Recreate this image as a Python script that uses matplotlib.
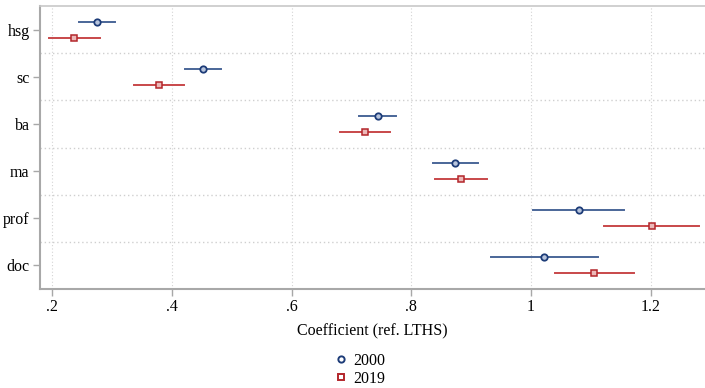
import matplotlib.pyplot as plt
from matplotlib.lines import Line2D

plt.rcParams['font.family'] = ['Liberation Serif', 'DejaVu Serif']

# Coefficients with 95% CI
categories = ['hsg', 'sc', 'ba', 'ma', 'prof', 'doc']
coef_2000 = [0.274, 0.452, 0.744, 0.873, 1.080, 1.022]
lo_2000 = [0.245, 0.422, 0.713, 0.836, 1.004, 0.933]
hi_2000 = [0.304, 0.482, 0.775, 0.911, 1.156, 1.112]
coef_2019 = [0.237, 0.379, 0.723, 0.883, 1.202, 1.106]
lo_2019 = [0.195, 0.337, 0.681, 0.839, 1.123, 1.041]
hi_2019 = [0.279, 0.420, 0.765, 0.927, 1.281, 1.172]
xticks = [0.2, 0.4, 0.6, 0.8, 1.0, 1.2]
xticklabels = ['.2', '.4', '.6', '.8', '1', '1.2']

blue_line, blue_mk = '#4a6698', '#1d3c78'
red_line, red_mk = '#c8484a', '#b3262b'

fig = plt.figure(figsize=(7.05, 3.88), dpi=100)
ax = fig.add_axes([40 / 705, 1 - 289 / 388, 1 - 40 / 705, (289 - 6) / 388])

off = 0.17
y = range(len(categories))
for i in y:
    ax.plot([lo_2000[i], hi_2000[i]], [i - off, i - off], color=blue_line, lw=1.4, zorder=2)
    ax.plot([lo_2019[i], hi_2019[i]], [i + off, i + off], color=red_line, lw=1.4, zorder=2)
ax.plot(coef_2000, [i - off for i in y], 'o', ms=4.6, mfc='#b7c4dc', mec=blue_mk, mew=1.3,
        ls='none', zorder=3)
ax.plot(coef_2019, [i + off for i in y], 's', ms=4.6, mfc='#ecb8b8', mec=red_mk, mew=1.1,
        ls='none', zorder=3)

ax.set_xlim(0.1794, 1.291)
ax.set_ylim(5.5, -0.5)
ax.set_yticks(list(y))
ax.set_yticklabels(categories, fontsize=11.5)
ax.set_xticks(xticks)
ax.set_xticklabels(xticklabels, fontsize=11.5)
ax.tick_params(axis='both', length=5, width=1, color='#a8a8a8', pad=2.5)

# dotted grids: vertical at ticks, horizontal between categories
for xv in xticks:
    ax.axvline(xv, color='#d4d4d4', lw=0.8, ls=(0, (1, 2)), zorder=0)
for yv in [0.5, 1.5, 2.5, 3.5, 4.5]:
    ax.axhline(yv, color='#cfcfcf', lw=1.0, ls=(0, (1, 2)), zorder=0)

for s in ['left', 'bottom']:
    ax.spines[s].set_color('#a8a8a8')
    ax.spines[s].set_linewidth(1.5)
ax.spines['top'].set_color('#c8c8c8')
ax.spines['top'].set_linewidth(1.2)
ax.spines['right'].set_visible(False)

ax.set_xlabel('Coefficient (ref. LTHS)', fontsize=11.5, labelpad=6)

handles = [
    Line2D([], [], marker='o', ls='none', ms=4.5, mfc='none', mec=blue_mk, mew=1.4),
    Line2D([], [], marker='s', ls='none', ms=4.5, mfc='none', mec=red_mk, mew=1.4),
]
fig.legend(handles, ['2000', '2019'], loc='upper center', bbox_to_anchor=(360 / 705, 1 - 345 / 388),
           ncol=1, frameon=False, fontsize=11.5, handlelength=0.8, handletextpad=0.4,
           labelspacing=0.1, borderpad=0)

fig.savefig('out.png', dpi=100)
